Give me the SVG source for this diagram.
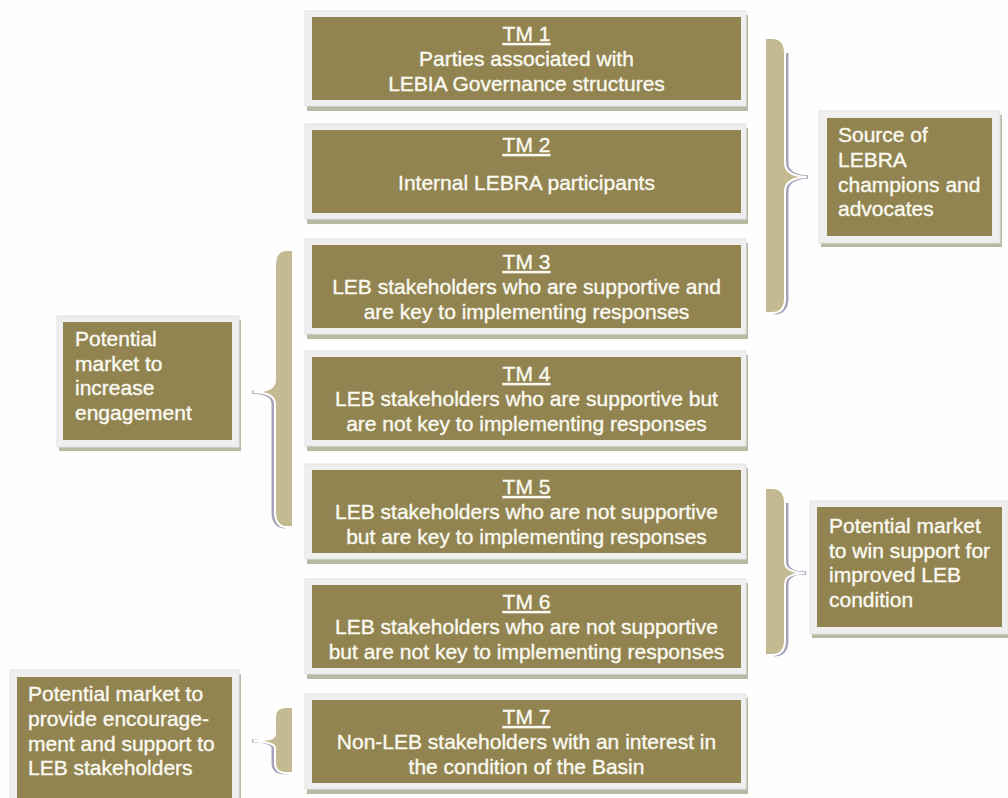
<svg xmlns="http://www.w3.org/2000/svg" width="1008" height="798" viewBox="0 0 1008 798">
<style>
.frame{fill:#efefef;stroke:#e2e2e2;stroke-width:1}
.shadow{fill:#b4bba3}
.fill{fill:#918450}
.t{font-family:"Liberation Sans",Arial,sans-serif;font-size:21px;fill:#fbfaf2;stroke:#fbfaf2;stroke-width:0.35}
.c{text-anchor:middle}
.u{text-decoration:underline}
.brace{fill:#c4ba92;stroke:#ffffff;stroke-width:2;stroke-linejoin:round}
.bshadow{fill:none;stroke:#a7a2b8;stroke-width:3;stroke-linejoin:round}
</style>
<rect x="0" y="0" width="1008" height="798" fill="#fefefe"/>

<g id="connectors">
  <!-- right brace 1 (TM1-TM3) -->
  <path class="bshadow" d="M774,313 C783,313 787,307 787,298 V191 C787,183 794,178 808,177"/>
  <path class="bshadow" d="M787,53 V163 C787,171 794,176 808,177"/>
  <path class="brace" d="M765,38 H772 C781,38 785,44 785,53 V163 C785,171 792,176 806,177 C792,178 785,183 785,191 V298 C785,307 781,313 772,313 H765 Z"/>
  <!-- right brace 2 (TM5-TM6) -->
  <path class="bshadow" d="M774,655 C783,655 787,649 787,640 V584 C787,577 793,573 806,573"/>
  <path class="bshadow" d="M787,503 V562 C787,569 793,573 806,573"/>
  <path class="brace" d="M765,488 H772 C781,488 785,494 785,503 V562 C785,569 791,572 804,573 C791,574 785,577 785,584 V640 C785,649 781,655 772,655 H765 Z"/>
  <!-- left brace 1 (TM3-TM5) -->
  <path class="bshadow" d="M286,527 C277,527 273,521 273,512 V404 C273,396 266,393 252,392"/>
  <path class="brace" d="M293,250 H286 C279,250 275,256 275,265 V380 C275,388 268,391 254,392 C268,393 275,396 275,404 V512 C275,521 279,527 286,527 H293 Z"/>
  <!-- left brace 2 (TM7) -->
  <path class="bshadow" d="M286,773 C277,773 273,769 273,763 V748 C273,744 266,741 252,741"/>
  <path class="brace" d="M293,707 H286 C279,707 275,711 275,717 V734 C275,739 268,740 254,741 C268,742 275,744 275,748 V763 C275,769 279,773 286,773 H293 Z"/>
</g>

<g id="tm1">
  <rect class="shadow" x="307" y="15" width="441" height="96"/>
  <rect class="frame" x="305" y="11" width="441" height="95"/>
  <rect class="fill" x="312" y="17" width="429" height="83"/>
  <text class="t c u" x="526.5" y="41">TM 1</text>
  <text class="t c" x="526.5" y="66">Parties associated with</text>
  <text class="t c" x="526.5" y="91">LEBIA Governance structures</text>
</g>
<g id="tm2">
  <rect class="shadow" x="307" y="128" width="441" height="96"/>
  <rect class="frame" x="305" y="124" width="441" height="95"/>
  <rect class="fill" x="312" y="130" width="429" height="83"/>
  <text class="t c u" x="526.5" y="152">TM 2</text>
  <text class="t c" x="526.5" y="190">Internal LEBRA participants</text>
</g>
<g id="tm3">
  <rect class="shadow" x="307" y="243" width="441" height="96"/>
  <rect class="frame" x="305" y="239" width="441" height="95"/>
  <rect class="fill" x="312" y="245" width="429" height="83"/>
  <text class="t c u" x="526.5" y="269">TM 3</text>
  <text class="t c" x="526.5" y="294">LEB stakeholders who are supportive and</text>
  <text class="t c" x="526.5" y="319">are key to implementing responses</text>
</g>
<g id="tm4">
  <rect class="shadow" x="307" y="355" width="441" height="96"/>
  <rect class="frame" x="305" y="351" width="441" height="95"/>
  <rect class="fill" x="312" y="357" width="429" height="83"/>
  <text class="t c u" x="526.5" y="381">TM 4</text>
  <text class="t c" x="526.5" y="406">LEB stakeholders who are supportive but</text>
  <text class="t c" x="526.5" y="431">are not key to implementing responses</text>
</g>
<g id="tm5">
  <rect class="shadow" x="307" y="468" width="441" height="96"/>
  <rect class="frame" x="305" y="464" width="441" height="95"/>
  <rect class="fill" x="312" y="470" width="429" height="83"/>
  <text class="t c u" x="526.5" y="494">TM 5</text>
  <text class="t c" x="526.5" y="519">LEB stakeholders who are not supportive</text>
  <text class="t c" x="526.5" y="544">but are key to implementing responses</text>
</g>
<g id="tm6">
  <rect class="shadow" x="307" y="583" width="441" height="96"/>
  <rect class="frame" x="305" y="579" width="441" height="95"/>
  <rect class="fill" x="312" y="585" width="429" height="83"/>
  <text class="t c u" x="526.5" y="609">TM 6</text>
  <text class="t c" x="526.5" y="634">LEB stakeholders who are not supportive</text>
  <text class="t c" x="526.5" y="659">but are not key to implementing responses</text>
</g>
<g id="tm7">
  <rect class="shadow" x="307" y="698" width="441" height="96"/>
  <rect class="frame" x="305" y="694" width="441" height="95"/>
  <rect class="fill" x="312" y="700" width="429" height="83"/>
  <text class="t c u" x="526.5" y="724">TM 7</text>
  <text class="t c" x="526.5" y="749">Non-LEB stakeholders with an interest in</text>
  <text class="t c" x="526.5" y="774">the condition of the Basin</text>
</g>

<g id="source-champions">
  <rect class="shadow" x="821" y="115" width="181" height="132"/>
  <rect class="frame" x="819" y="111" width="181" height="132"/>
  <rect class="fill" x="827" y="118" width="165" height="118"/>
  <text class="t" x="838" y="142">Source of</text>
  <text class="t" x="838" y="167">LEBRA</text>
  <text class="t" x="838" y="192">champions and</text>
  <text class="t" x="838" y="216">advocates</text>
</g>
<g id="increase-engagement">
  <rect class="shadow" x="59" y="320" width="182" height="131"/>
  <rect class="frame" x="57" y="316" width="182" height="131"/>
  <rect class="fill" x="63" y="322" width="169" height="118"/>
  <text class="t" x="75" y="346">Potential</text>
  <text class="t" x="75" y="371">market to</text>
  <text class="t" x="75" y="395">increase</text>
  <text class="t" x="75" y="420">engagement</text>
</g>
<g id="win-support">
  <rect class="shadow" x="812" y="505" width="198" height="133"/>
  <rect class="frame" x="810" y="501" width="198" height="133"/>
  <rect class="fill" x="817" y="507" width="185" height="120"/>
  <text class="t" x="829" y="533">Potential market</text>
  <text class="t" x="829" y="558">to win support for</text>
  <text class="t" x="829" y="582">improved LEB</text>
  <text class="t" x="829" y="607">condition</text>
</g>
<g id="encouragement">
  <rect class="shadow" x="12" y="674" width="229" height="140"/>
  <rect class="frame" x="10" y="670" width="229" height="140"/>
  <rect class="fill" x="17" y="677" width="215" height="130"/>
  <text class="t" x="28" y="701">Potential market to</text>
  <text class="t" x="28" y="726">provide encourage-</text>
  <text class="t" x="28" y="751">ment and support to</text>
  <text class="t" x="28" y="775">LEB stakeholders</text>
</g>
</svg>
